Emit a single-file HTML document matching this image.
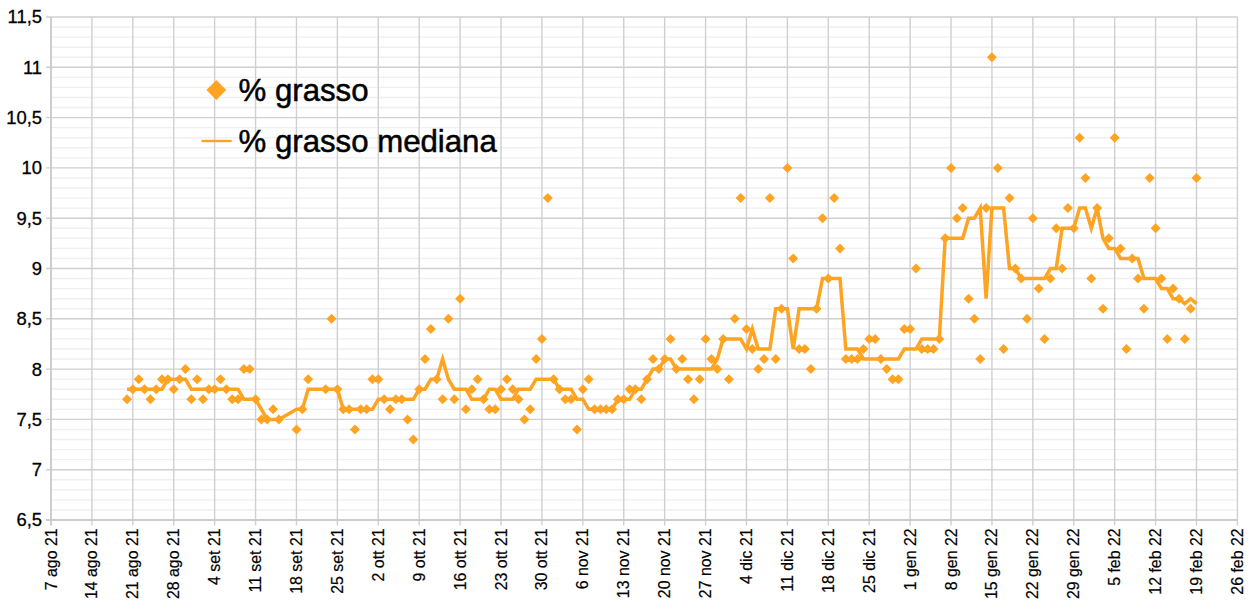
<!DOCTYPE html>
<html><head><meta charset="utf-8"><title>% grasso</title>
<style>
html,body{margin:0;padding:0;background:#fff;}
body{width:1258px;height:611px;position:relative;overflow:hidden;font-family:"Liberation Sans",sans-serif;}
.t{font-family:"Liberation Sans",sans-serif;fill:#000;}
</style></head><body>
<svg width="1258" height="611" viewBox="0 0 1258 611" style="position:absolute;left:0;top:0">
<path d="M51.0 509.94H1237.4M51.0 499.88H1237.4M51.0 489.82H1237.4M51.0 479.76H1237.4M51.0 459.64H1237.4M51.0 449.58H1237.4M51.0 439.52H1237.4M51.0 429.46H1237.4M51.0 409.34H1237.4M51.0 399.28H1237.4M51.0 389.22H1237.4M51.0 379.16H1237.4M51.0 359.04H1237.4M51.0 348.98H1237.4M51.0 338.92H1237.4M51.0 328.86H1237.4M51.0 308.74H1237.4M51.0 298.68H1237.4M51.0 288.62H1237.4M51.0 278.56H1237.4M51.0 258.44H1237.4M51.0 248.38H1237.4M51.0 238.32H1237.4M51.0 228.26H1237.4M51.0 208.14H1237.4M51.0 198.08H1237.4M51.0 188.02H1237.4M51.0 177.96H1237.4M51.0 157.84H1237.4M51.0 147.78H1237.4M51.0 137.72H1237.4M51.0 127.66H1237.4M51.0 107.54H1237.4M51.0 97.48H1237.4M51.0 87.42H1237.4M51.0 77.36H1237.4M51.0 57.24H1237.4M51.0 47.18H1237.4M51.0 37.12H1237.4M51.0 27.06H1237.4" stroke="#f0f0f0" stroke-width="1.4" fill="none"/>
<path d="M46.0 520.00H1237.4M46.0 469.70H1237.4M46.0 419.40H1237.4M46.0 369.10H1237.4M46.0 318.80H1237.4M46.0 268.50H1237.4M46.0 218.20H1237.4M46.0 167.90H1237.4M46.0 117.60H1237.4M46.0 67.30H1237.4M46.0 17.00H1237.4M51.00 17.0V525.5M91.91 17.0V525.5M132.82 17.0V525.5M173.73 17.0V525.5M214.64 17.0V525.5M255.55 17.0V525.5M296.46 17.0V525.5M337.37 17.0V525.5M378.28 17.0V525.5M419.19 17.0V525.5M460.10 17.0V525.5M501.01 17.0V525.5M541.92 17.0V525.5M582.83 17.0V525.5M623.74 17.0V525.5M664.66 17.0V525.5M705.57 17.0V525.5M746.48 17.0V525.5M787.39 17.0V525.5M828.30 17.0V525.5M869.21 17.0V525.5M910.12 17.0V525.5M951.03 17.0V525.5M991.94 17.0V525.5M1032.85 17.0V525.5M1073.76 17.0V525.5M1114.67 17.0V525.5M1155.58 17.0V525.5M1196.49 17.0V525.5M1237.40 17.0V525.5" stroke="#d0d0d2" stroke-width="1.4" fill="none"/>
<path d="M51.0 17.0V525.5M46.0 520.0H1237.4" stroke="#c8c8c8" stroke-width="1.4" fill="none"/>
<polyline points="127.0,389.2 132.8,389.2 138.7,389.2 144.5,389.2 150.4,389.2 156.2,389.2 162.0,389.2 167.9,379.2 173.7,379.2 179.6,379.2 185.4,379.2 191.3,389.2 197.1,389.2 203.0,389.2 208.8,389.2 214.6,389.2 220.5,389.2 226.3,389.2 232.2,389.2 238.0,389.2 243.9,399.3 249.7,399.3 255.6,399.3 261.4,409.3 267.2,419.4 273.1,419.4 278.9,419.4 296.5,409.3 302.3,409.3 308.2,389.2 325.7,389.2 331.5,389.2 337.4,389.2 343.2,409.3 349.1,409.3 354.9,409.3 360.7,409.3 366.6,409.3 372.4,409.3 378.3,399.3 384.1,399.3 390.0,399.3 395.8,399.3 401.7,399.3 407.5,399.3 413.3,399.3 419.2,389.2 425.0,389.2 430.9,379.2 436.7,379.2 442.6,359.0 448.4,379.2 454.3,389.2 460.1,389.2 465.9,389.2 471.8,399.3 477.6,399.3 483.5,399.3 489.3,389.2 495.2,389.2 501.0,399.3 506.9,399.3 512.7,399.3 518.5,389.2 524.4,389.2 530.2,389.2 536.1,379.2 541.9,379.2 547.8,379.2 553.6,379.2 559.5,389.2 565.3,389.2 571.1,389.2 577.0,399.3 582.8,399.3 588.7,409.3 594.5,409.3 600.4,409.3 606.2,409.3 612.1,409.3 617.9,399.3 623.7,399.3 629.6,399.3 635.4,389.2 641.3,389.2 647.1,379.2 653.0,369.1 658.8,369.1 664.7,359.0 670.5,359.0 676.3,369.1 682.2,369.1 688.0,369.1 693.9,369.1 699.7,369.1 705.6,369.1 711.4,369.1 717.3,359.0 723.1,338.9 728.9,338.9 734.8,338.9 740.6,338.9 746.5,349.0 752.3,328.9 758.2,349.0 764.0,349.0 769.9,349.0 775.7,308.7 781.5,308.7 787.4,308.7 793.2,349.0 799.1,308.7 804.9,308.7 810.8,308.7 816.6,308.7 822.5,278.6 828.3,278.6 834.1,278.6 840.0,278.6 845.8,349.0 851.7,349.0 857.5,349.0 863.4,359.0 869.2,359.0 875.1,359.0 880.9,359.0 886.7,359.0 892.6,359.0 898.4,359.0 904.3,349.0 910.1,349.0 916.0,349.0 921.8,338.9 927.7,338.9 933.5,338.9 939.3,338.9 945.2,238.3 951.0,238.3 956.9,238.3 962.7,238.3 968.6,218.2 974.4,218.2 980.2,208.1 986.1,298.7 991.9,208.1 997.8,208.1 1003.6,208.1 1009.5,268.5 1015.3,268.5 1021.2,278.6 1027.0,278.6 1032.8,278.6 1038.7,278.6 1044.5,278.6 1050.4,268.5 1056.2,268.5 1062.1,228.3 1067.9,228.3 1073.8,228.3 1079.6,208.1 1085.4,208.1 1091.3,228.3 1097.1,208.1 1103.0,238.3 1108.8,248.4 1114.7,248.4 1120.5,258.4 1126.4,258.4 1132.2,258.4 1138.0,258.4 1143.9,278.6 1149.7,278.6 1155.6,278.6 1161.4,288.6 1167.3,288.6 1173.1,298.7 1179.0,298.7 1184.8,303.7 1190.6,298.7 1196.5,303.7" fill="none" stroke="#ffa422" stroke-width="3.5" stroke-linejoin="miter" stroke-linecap="butt"/>
<path d="M127.0 394.3L132.0 399.3L127.0 404.3L122.0 399.3ZM132.8 384.2L137.8 389.2L132.8 394.2L127.8 389.2ZM138.7 374.2L143.7 379.2L138.7 384.2L133.7 379.2ZM144.5 384.2L149.5 389.2L144.5 394.2L139.5 389.2ZM150.4 394.3L155.4 399.3L150.4 404.3L145.4 399.3ZM156.2 384.2L161.2 389.2L156.2 394.2L151.2 389.2ZM162.0 374.2L167.0 379.2L162.0 384.2L157.0 379.2ZM167.9 374.2L172.9 379.2L167.9 384.2L162.9 379.2ZM173.7 384.2L178.7 389.2L173.7 394.2L168.7 389.2ZM179.6 374.2L184.6 379.2L179.6 384.2L174.6 379.2ZM185.4 364.1L190.4 369.1L185.4 374.1L180.4 369.1ZM191.3 394.3L196.3 399.3L191.3 404.3L186.3 399.3ZM197.1 374.2L202.1 379.2L197.1 384.2L192.1 379.2ZM203.0 394.3L208.0 399.3L203.0 404.3L198.0 399.3ZM208.8 384.2L213.8 389.2L208.8 394.2L203.8 389.2ZM214.6 384.2L219.6 389.2L214.6 394.2L209.6 389.2ZM220.5 374.2L225.5 379.2L220.5 384.2L215.5 379.2ZM226.3 384.2L231.3 389.2L226.3 394.2L221.3 389.2ZM232.2 394.3L237.2 399.3L232.2 404.3L227.2 399.3ZM238.0 394.3L243.0 399.3L238.0 404.3L233.0 399.3ZM243.9 364.1L248.9 369.1L243.9 374.1L238.9 369.1ZM249.7 364.1L254.7 369.1L249.7 374.1L244.7 369.1ZM255.6 394.3L260.6 399.3L255.6 404.3L250.6 399.3ZM261.4 414.4L266.4 419.4L261.4 424.4L256.4 419.4ZM267.2 414.4L272.2 419.4L267.2 424.4L262.2 419.4ZM273.1 404.3L278.1 409.3L273.1 414.3L268.1 409.3ZM278.9 414.4L283.9 419.4L278.9 424.4L273.9 419.4ZM296.5 424.5L301.5 429.5L296.5 434.5L291.5 429.5ZM302.3 404.3L307.3 409.3L302.3 414.3L297.3 409.3ZM308.2 374.2L313.2 379.2L308.2 384.2L303.2 379.2ZM325.7 384.2L330.7 389.2L325.7 394.2L320.7 389.2ZM331.5 313.8L336.5 318.8L331.5 323.8L326.5 318.8ZM337.4 384.2L342.4 389.2L337.4 394.2L332.4 389.2ZM343.2 404.3L348.2 409.3L343.2 414.3L338.2 409.3ZM349.1 404.3L354.1 409.3L349.1 414.3L344.1 409.3ZM354.9 424.5L359.9 429.5L354.9 434.5L349.9 429.5ZM360.7 404.3L365.7 409.3L360.7 414.3L355.7 409.3ZM366.6 404.3L371.6 409.3L366.6 414.3L361.6 409.3ZM372.4 374.2L377.4 379.2L372.4 384.2L367.4 379.2ZM378.3 374.2L383.3 379.2L378.3 384.2L373.3 379.2ZM384.1 394.3L389.1 399.3L384.1 404.3L379.1 399.3ZM390.0 404.3L395.0 409.3L390.0 414.3L385.0 409.3ZM395.8 394.3L400.8 399.3L395.8 404.3L390.8 399.3ZM401.7 394.3L406.7 399.3L401.7 404.3L396.7 399.3ZM407.5 414.4L412.5 419.4L407.5 424.4L402.5 419.4ZM413.3 434.5L418.3 439.5L413.3 444.5L408.3 439.5ZM419.2 384.2L424.2 389.2L419.2 394.2L414.2 389.2ZM425.0 354.0L430.0 359.0L425.0 364.0L420.0 359.0ZM430.9 323.9L435.9 328.9L430.9 333.9L425.9 328.9ZM436.7 374.2L441.7 379.2L436.7 384.2L431.7 379.2ZM442.6 394.3L447.6 399.3L442.6 404.3L437.6 399.3ZM448.4 313.8L453.4 318.8L448.4 323.8L443.4 318.8ZM454.3 394.3L459.3 399.3L454.3 404.3L449.3 399.3ZM460.1 293.7L465.1 298.7L460.1 303.7L455.1 298.7ZM465.9 404.3L470.9 409.3L465.9 414.3L460.9 409.3ZM471.8 384.2L476.8 389.2L471.8 394.2L466.8 389.2ZM477.6 374.2L482.6 379.2L477.6 384.2L472.6 379.2ZM483.5 394.3L488.5 399.3L483.5 404.3L478.5 399.3ZM489.3 404.3L494.3 409.3L489.3 414.3L484.3 409.3ZM495.2 404.3L500.2 409.3L495.2 414.3L490.2 409.3ZM501.0 384.2L506.0 389.2L501.0 394.2L496.0 389.2ZM506.9 374.2L511.9 379.2L506.9 384.2L501.9 379.2ZM512.7 384.2L517.7 389.2L512.7 394.2L507.7 389.2ZM518.5 394.3L523.5 399.3L518.5 404.3L513.5 399.3ZM524.4 414.4L529.4 419.4L524.4 424.4L519.4 419.4ZM530.2 404.3L535.2 409.3L530.2 414.3L525.2 409.3ZM536.1 354.0L541.1 359.0L536.1 364.0L531.1 359.0ZM541.9 333.9L546.9 338.9L541.9 343.9L536.9 338.9ZM547.8 193.1L552.8 198.1L547.8 203.1L542.8 198.1ZM553.6 374.2L558.6 379.2L553.6 384.2L548.6 379.2ZM559.5 384.2L564.5 389.2L559.5 394.2L554.5 389.2ZM565.3 394.3L570.3 399.3L565.3 404.3L560.3 399.3ZM571.1 394.3L576.1 399.3L571.1 404.3L566.1 399.3ZM577.0 424.5L582.0 429.5L577.0 434.5L572.0 429.5ZM582.8 384.2L587.8 389.2L582.8 394.2L577.8 389.2ZM588.7 374.2L593.7 379.2L588.7 384.2L583.7 379.2ZM594.5 404.3L599.5 409.3L594.5 414.3L589.5 409.3ZM600.4 404.3L605.4 409.3L600.4 414.3L595.4 409.3ZM606.2 404.3L611.2 409.3L606.2 414.3L601.2 409.3ZM612.1 404.3L617.1 409.3L612.1 414.3L607.1 409.3ZM617.9 394.3L622.9 399.3L617.9 404.3L612.9 399.3ZM623.7 394.3L628.7 399.3L623.7 404.3L618.7 399.3ZM629.6 384.2L634.6 389.2L629.6 394.2L624.6 389.2ZM635.4 384.2L640.4 389.2L635.4 394.2L630.4 389.2ZM641.3 394.3L646.3 399.3L641.3 404.3L636.3 399.3ZM647.1 374.2L652.1 379.2L647.1 384.2L642.1 379.2ZM653.0 354.0L658.0 359.0L653.0 364.0L648.0 359.0ZM658.8 364.1L663.8 369.1L658.8 374.1L653.8 369.1ZM664.7 354.0L669.7 359.0L664.7 364.0L659.7 359.0ZM670.5 333.9L675.5 338.9L670.5 343.9L665.5 338.9ZM676.3 364.1L681.3 369.1L676.3 374.1L671.3 369.1ZM682.2 354.0L687.2 359.0L682.2 364.0L677.2 359.0ZM688.0 374.2L693.0 379.2L688.0 384.2L683.0 379.2ZM693.9 394.3L698.9 399.3L693.9 404.3L688.9 399.3ZM699.7 374.2L704.7 379.2L699.7 384.2L694.7 379.2ZM705.6 333.9L710.6 338.9L705.6 343.9L700.6 338.9ZM711.4 354.0L716.4 359.0L711.4 364.0L706.4 359.0ZM717.3 364.1L722.3 369.1L717.3 374.1L712.3 369.1ZM723.1 333.9L728.1 338.9L723.1 343.9L718.1 338.9ZM728.9 374.2L733.9 379.2L728.9 384.2L723.9 379.2ZM734.8 313.8L739.8 318.8L734.8 323.8L729.8 318.8ZM740.6 193.1L745.6 198.1L740.6 203.1L735.6 198.1ZM746.5 323.9L751.5 328.9L746.5 333.9L741.5 328.9ZM752.3 344.0L757.3 349.0L752.3 354.0L747.3 349.0ZM758.2 364.1L763.2 369.1L758.2 374.1L753.2 369.1ZM764.0 354.0L769.0 359.0L764.0 364.0L759.0 359.0ZM769.9 193.1L774.9 198.1L769.9 203.1L764.9 198.1ZM775.7 354.0L780.7 359.0L775.7 364.0L770.7 359.0ZM781.5 303.7L786.5 308.7L781.5 313.7L776.5 308.7ZM787.4 162.9L792.4 167.9L787.4 172.9L782.4 167.9ZM793.2 253.4L798.2 258.4L793.2 263.4L788.2 258.4ZM799.1 344.0L804.1 349.0L799.1 354.0L794.1 349.0ZM804.9 344.0L809.9 349.0L804.9 354.0L799.9 349.0ZM810.8 364.1L815.8 369.1L810.8 374.1L805.8 369.1ZM816.6 303.7L821.6 308.7L816.6 313.7L811.6 308.7ZM822.5 213.2L827.5 218.2L822.5 223.2L817.5 218.2ZM828.3 273.6L833.3 278.6L828.3 283.6L823.3 278.6ZM834.1 193.1L839.1 198.1L834.1 203.1L829.1 198.1ZM840.0 243.4L845.0 248.4L840.0 253.4L835.0 248.4ZM845.8 354.0L850.8 359.0L845.8 364.0L840.8 359.0ZM851.7 354.0L856.7 359.0L851.7 364.0L846.7 359.0ZM857.5 354.0L862.5 359.0L857.5 364.0L852.5 359.0ZM863.4 344.0L868.4 349.0L863.4 354.0L858.4 349.0ZM869.2 333.9L874.2 338.9L869.2 343.9L864.2 338.9ZM875.1 333.9L880.1 338.9L875.1 343.9L870.1 338.9ZM880.9 354.0L885.9 359.0L880.9 364.0L875.9 359.0ZM886.7 364.1L891.7 369.1L886.7 374.1L881.7 369.1ZM892.6 374.2L897.6 379.2L892.6 384.2L887.6 379.2ZM898.4 374.2L903.4 379.2L898.4 384.2L893.4 379.2ZM904.3 323.9L909.3 328.9L904.3 333.9L899.3 328.9ZM910.1 323.9L915.1 328.9L910.1 333.9L905.1 328.9ZM916.0 263.5L921.0 268.5L916.0 273.5L911.0 268.5ZM921.8 344.0L926.8 349.0L921.8 354.0L916.8 349.0ZM927.7 344.0L932.7 349.0L927.7 354.0L922.7 349.0ZM933.5 344.0L938.5 349.0L933.5 354.0L928.5 349.0ZM939.3 333.9L944.3 338.9L939.3 343.9L934.3 338.9ZM945.2 233.3L950.2 238.3L945.2 243.3L940.2 238.3ZM951.0 162.9L956.0 167.9L951.0 172.9L946.0 167.9ZM956.9 213.2L961.9 218.2L956.9 223.2L951.9 218.2ZM962.7 203.1L967.7 208.1L962.7 213.1L957.7 208.1ZM968.6 293.7L973.6 298.7L968.6 303.7L963.6 298.7ZM974.4 313.8L979.4 318.8L974.4 323.8L969.4 318.8ZM980.2 354.0L985.2 359.0L980.2 364.0L975.2 359.0ZM986.1 203.1L991.1 208.1L986.1 213.1L981.1 208.1ZM991.9 52.2L996.9 57.2L991.9 62.2L986.9 57.2ZM997.8 162.9L1002.8 167.9L997.8 172.9L992.8 167.9ZM1003.6 344.0L1008.6 349.0L1003.6 354.0L998.6 349.0ZM1009.5 193.1L1014.5 198.1L1009.5 203.1L1004.5 198.1ZM1015.3 263.5L1020.3 268.5L1015.3 273.5L1010.3 268.5ZM1021.2 273.6L1026.2 278.6L1021.2 283.6L1016.2 278.6ZM1027.0 313.8L1032.0 318.8L1027.0 323.8L1022.0 318.8ZM1032.8 213.2L1037.8 218.2L1032.8 223.2L1027.8 218.2ZM1038.7 283.6L1043.7 288.6L1038.7 293.6L1033.7 288.6ZM1044.5 333.9L1049.5 338.9L1044.5 343.9L1039.5 338.9ZM1050.4 273.6L1055.4 278.6L1050.4 283.6L1045.4 278.6ZM1056.2 223.3L1061.2 228.3L1056.2 233.3L1051.2 228.3ZM1062.1 263.5L1067.1 268.5L1062.1 273.5L1057.1 268.5ZM1067.9 203.1L1072.9 208.1L1067.9 213.1L1062.9 208.1ZM1073.8 223.3L1078.8 228.3L1073.8 233.3L1068.8 228.3ZM1079.6 132.7L1084.6 137.7L1079.6 142.7L1074.6 137.7ZM1085.4 173.0L1090.4 178.0L1085.4 183.0L1080.4 178.0ZM1091.3 273.6L1096.3 278.6L1091.3 283.6L1086.3 278.6ZM1097.1 203.1L1102.1 208.1L1097.1 213.1L1092.1 208.1ZM1103.0 303.7L1108.0 308.7L1103.0 313.7L1098.0 308.7ZM1108.8 233.3L1113.8 238.3L1108.8 243.3L1103.8 238.3ZM1114.7 132.7L1119.7 137.7L1114.7 142.7L1109.7 137.7ZM1120.5 243.4L1125.5 248.4L1120.5 253.4L1115.5 248.4ZM1126.4 344.0L1131.4 349.0L1126.4 354.0L1121.4 349.0ZM1132.2 253.4L1137.2 258.4L1132.2 263.4L1127.2 258.4ZM1138.0 273.6L1143.0 278.6L1138.0 283.6L1133.0 278.6ZM1143.9 303.7L1148.9 308.7L1143.9 313.7L1138.9 308.7ZM1149.7 173.0L1154.7 178.0L1149.7 183.0L1144.7 178.0ZM1155.6 223.3L1160.6 228.3L1155.6 233.3L1150.6 228.3ZM1161.4 273.6L1166.4 278.6L1161.4 283.6L1156.4 278.6ZM1167.3 333.9L1172.3 338.9L1167.3 343.9L1162.3 338.9ZM1173.1 283.6L1178.1 288.6L1173.1 293.6L1168.1 288.6ZM1179.0 293.7L1184.0 298.7L1179.0 303.7L1174.0 298.7ZM1184.8 333.9L1189.8 338.9L1184.8 343.9L1179.8 338.9ZM1190.6 303.7L1195.6 308.7L1190.6 313.7L1185.6 308.7ZM1196.5 173.0L1201.5 178.0L1196.5 183.0L1191.5 178.0Z" fill="#ffa422"/>
<path d="M216.3 80.1L226.20000000000002 90.0L216.3 99.9L206.4 90.0Z" fill="#ffa422"/>
<path d="M201.5 141H231.7" stroke="#ffa422" stroke-width="2.4" fill="none"/>
<text x="238.5" y="101.2" font-size="31.2" class="t" stroke="#000" stroke-width="0.5">% grasso</text>
<text x="238.5" y="151.7" font-size="31.2" class="t" stroke="#000" stroke-width="0.5">% grasso mediana</text>
<text x="42" y="526.4" font-size="18.4" text-anchor="end" class="t" stroke="#000" stroke-width="0.3">6,5</text>
<text x="42" y="476.1" font-size="18.4" text-anchor="end" class="t" stroke="#000" stroke-width="0.3">7</text>
<text x="42" y="425.8" font-size="18.4" text-anchor="end" class="t" stroke="#000" stroke-width="0.3">7,5</text>
<text x="42" y="375.5" font-size="18.4" text-anchor="end" class="t" stroke="#000" stroke-width="0.3">8</text>
<text x="42" y="325.2" font-size="18.4" text-anchor="end" class="t" stroke="#000" stroke-width="0.3">8,5</text>
<text x="42" y="274.9" font-size="18.4" text-anchor="end" class="t" stroke="#000" stroke-width="0.3">9</text>
<text x="42" y="224.6" font-size="18.4" text-anchor="end" class="t" stroke="#000" stroke-width="0.3">9,5</text>
<text x="42" y="174.3" font-size="18.4" text-anchor="end" class="t" stroke="#000" stroke-width="0.3">10</text>
<text x="42" y="124.0" font-size="18.4" text-anchor="end" class="t" stroke="#000" stroke-width="0.3">10,5</text>
<text x="42" y="73.7" font-size="18.4" text-anchor="end" class="t" stroke="#000" stroke-width="0.3">11</text>
<text x="42" y="23.4" font-size="18.4" text-anchor="end" class="t" stroke="#000" stroke-width="0.3">11,5</text>
<text transform="translate(56.5,528.4) rotate(-90)" font-size="15.9" text-anchor="end" class="t" stroke="#000" stroke-width="0.2">7 ago 21</text>
<text transform="translate(97.4,528.4) rotate(-90)" font-size="15.9" text-anchor="end" class="t" stroke="#000" stroke-width="0.2">14 ago 21</text>
<text transform="translate(138.3,528.4) rotate(-90)" font-size="15.9" text-anchor="end" class="t" stroke="#000" stroke-width="0.2">21 ago 21</text>
<text transform="translate(179.2,528.4) rotate(-90)" font-size="15.9" text-anchor="end" class="t" stroke="#000" stroke-width="0.2">28 ago 21</text>
<text transform="translate(220.1,528.4) rotate(-90)" font-size="15.9" text-anchor="end" class="t" stroke="#000" stroke-width="0.2">4 set 21</text>
<text transform="translate(261.1,528.4) rotate(-90)" font-size="15.9" text-anchor="end" class="t" stroke="#000" stroke-width="0.2">11 set 21</text>
<text transform="translate(302.0,528.4) rotate(-90)" font-size="15.9" text-anchor="end" class="t" stroke="#000" stroke-width="0.2">18 set 21</text>
<text transform="translate(342.9,528.4) rotate(-90)" font-size="15.9" text-anchor="end" class="t" stroke="#000" stroke-width="0.2">25 set 21</text>
<text transform="translate(383.8,528.4) rotate(-90)" font-size="15.9" text-anchor="end" class="t" stroke="#000" stroke-width="0.2">2 ott 21</text>
<text transform="translate(424.7,528.4) rotate(-90)" font-size="15.9" text-anchor="end" class="t" stroke="#000" stroke-width="0.2">9 ott 21</text>
<text transform="translate(465.6,528.4) rotate(-90)" font-size="15.9" text-anchor="end" class="t" stroke="#000" stroke-width="0.2">16 ott 21</text>
<text transform="translate(506.5,528.4) rotate(-90)" font-size="15.9" text-anchor="end" class="t" stroke="#000" stroke-width="0.2">23 ott 21</text>
<text transform="translate(547.4,528.4) rotate(-90)" font-size="15.9" text-anchor="end" class="t" stroke="#000" stroke-width="0.2">30 ott 21</text>
<text transform="translate(588.3,528.4) rotate(-90)" font-size="15.9" text-anchor="end" class="t" stroke="#000" stroke-width="0.2">6 nov 21</text>
<text transform="translate(629.2,528.4) rotate(-90)" font-size="15.9" text-anchor="end" class="t" stroke="#000" stroke-width="0.2">13 nov 21</text>
<text transform="translate(670.2,528.4) rotate(-90)" font-size="15.9" text-anchor="end" class="t" stroke="#000" stroke-width="0.2">20 nov 21</text>
<text transform="translate(711.1,528.4) rotate(-90)" font-size="15.9" text-anchor="end" class="t" stroke="#000" stroke-width="0.2">27 nov 21</text>
<text transform="translate(752.0,528.4) rotate(-90)" font-size="15.9" text-anchor="end" class="t" stroke="#000" stroke-width="0.2">4 dic 21</text>
<text transform="translate(792.9,528.4) rotate(-90)" font-size="15.9" text-anchor="end" class="t" stroke="#000" stroke-width="0.2">11 dic 21</text>
<text transform="translate(833.8,528.4) rotate(-90)" font-size="15.9" text-anchor="end" class="t" stroke="#000" stroke-width="0.2">18 dic 21</text>
<text transform="translate(874.7,528.4) rotate(-90)" font-size="15.9" text-anchor="end" class="t" stroke="#000" stroke-width="0.2">25 dic 21</text>
<text transform="translate(915.6,528.4) rotate(-90)" font-size="15.9" text-anchor="end" class="t" stroke="#000" stroke-width="0.2">1 gen 22</text>
<text transform="translate(956.5,528.4) rotate(-90)" font-size="15.9" text-anchor="end" class="t" stroke="#000" stroke-width="0.2">8 gen 22</text>
<text transform="translate(997.4,528.4) rotate(-90)" font-size="15.9" text-anchor="end" class="t" stroke="#000" stroke-width="0.2">15 gen 22</text>
<text transform="translate(1038.3,528.4) rotate(-90)" font-size="15.9" text-anchor="end" class="t" stroke="#000" stroke-width="0.2">22 gen 22</text>
<text transform="translate(1079.3,528.4) rotate(-90)" font-size="15.9" text-anchor="end" class="t" stroke="#000" stroke-width="0.2">29 gen 22</text>
<text transform="translate(1120.2,528.4) rotate(-90)" font-size="15.9" text-anchor="end" class="t" stroke="#000" stroke-width="0.2">5 feb 22</text>
<text transform="translate(1161.1,528.4) rotate(-90)" font-size="15.9" text-anchor="end" class="t" stroke="#000" stroke-width="0.2">12 feb 22</text>
<text transform="translate(1202.0,528.4) rotate(-90)" font-size="15.9" text-anchor="end" class="t" stroke="#000" stroke-width="0.2">19 feb 22</text>
<text transform="translate(1242.9,528.4) rotate(-90)" font-size="15.9" text-anchor="end" class="t" stroke="#000" stroke-width="0.2">26 feb 22</text>
</svg>
</body></html>
